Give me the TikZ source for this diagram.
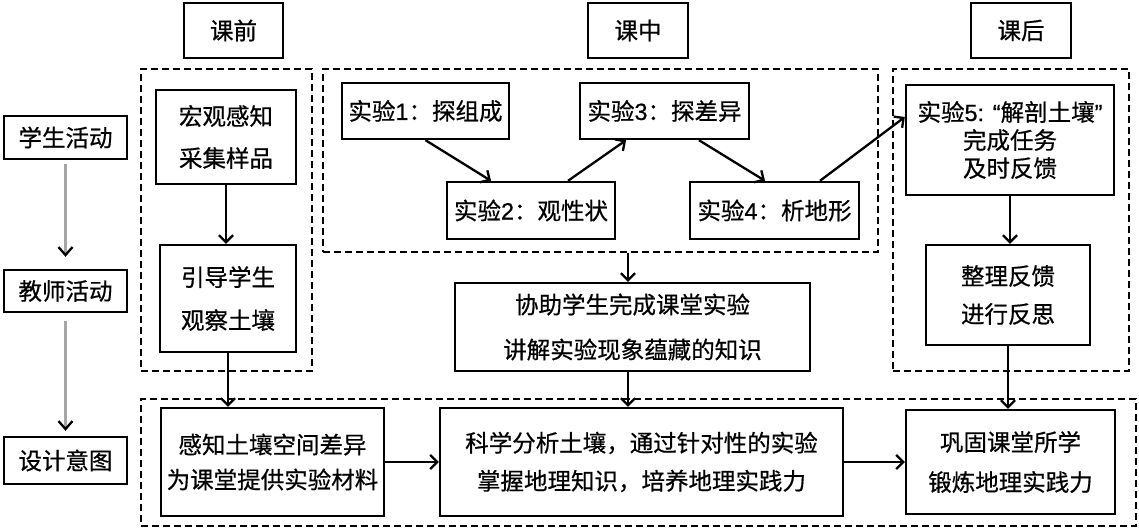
\documentclass[tikz,border=0pt]{standalone}
\usepackage{fontspec}
\newfontfamily\cjk[FakeBold=0.6]{Noto Sans CJK SC}
\newfontfamily\lat[FakeBold=0.6]{Liberation Sans}
\usetikzlibrary{arrows.meta,calc}
\begin{document}
\begin{tikzpicture}[x=1pt,y=-1pt,
  box/.style={draw, line width=2.4pt, inner sep=0pt, align=center, font=\cjk\fontsize{23.5}{30}\selectfont},
  lh/.style={font=\cjk\fontsize{23.5}{#1}\selectfont},
  dbox/.style={draw, line width=2.2pt, dash pattern=on 7pt off 4pt, inner sep=0pt},
  arr/.style={line width=2.3pt, -{Straight Barb[length=7pt,width=14pt,line width=2.3pt]}},
  garr/.style={draw=gray!70, line width=3pt, -{Straight Barb[black,length=8pt,width=14pt,line width=2.3pt]}}
]
\useasboundingbox (0,0) rectangle (1139,530);
% dashed groups
\node[dbox, minimum width=171pt, minimum height=302pt] (d1) at (226.5,220) {};
\node[dbox, minimum width=555pt, minimum height=183pt] (d2) at (600.5,160.5) {};
\node[dbox, minimum width=236pt, minimum height=302pt] (d3) at (1011,220) {};
\node[dbox, minimum width=995pt, minimum height=127pt] (d4) at (638.5,462.5) {};
% headers
\node[box, minimum width=99pt, minimum height=55pt] (kq) at (233.5,30.5) {课前};
\node[box, minimum width=100pt, minimum height=55pt] (kz) at (638,30.5) {课中};
\node[box, minimum width=100pt, minimum height=55pt] (kh) at (1021,30.5) {课后};
% row labels
\node[box, minimum width=123pt, minimum height=43pt] (xs) at (65.5,137.5) {学生活动};
\node[box, minimum width=123pt, minimum height=42pt] (js) at (65.5,291) {教师活动};
\node[box, minimum width=123pt, minimum height=47pt] (sj) at (65.5,460.5) {设计意图};
% pre-class
\node[box, lh=42pt, minimum width=140pt, minimum height=94pt] (hg) at (226,137) {宏观感知\\采集样品};
\node[box, lh=43pt, minimum width=136pt, minimum height=107pt] (yd) at (228,298.5) {引导学生\\观察土壤};
% in-class
\node[box, minimum width=167pt, minimum height=56pt] (s1) at (425.5,111) {实验{\lat 1}：探组成};
\node[box, minimum width=168pt, minimum height=57pt] (s2) at (531,210.5) {实验{\lat 2}：观性状};
\node[box, minimum width=169pt, minimum height=56pt] (s3) at (664.5,111) {实验{\lat 3}：探差异};
\node[box, minimum width=169pt, minimum height=57pt] (s4) at (774.5,210.5) {实验{\lat 4}：析地形};
\node[box, lh=45pt, minimum width=355pt, minimum height=88pt] (xz) at (632.5,327) {协助学生完成课堂实验\\讲解实验现象蕴藏的知识};
% after class
\node[box, lh=28pt, minimum width=208pt, minimum height=110pt] (s5) at (1010,140) {实验{\lat 5: “}解剖土壤{\lat ”}\\完成任务\\及时反馈};
\node[box, lh=38pt, minimum width=164pt, minimum height=100pt] (zl) at (1008,295) {整理反馈\\进行反思};
% design intent
\node[box, lh=35pt, minimum width=223pt, minimum height=108pt] (gz) at (272.5,462) {感知土壤空间差异\\为课堂提供实验材料};
\node[box, lh=38pt, minimum width=403pt, minimum height=108pt] (kx) at (641.5,462) {科学分析土壤，通过针对性的实验\\掌握地理知识，培养地理实践力};
\node[box, lh=40pt, minimum width=209pt, minimum height=104pt] (gg) at (1010.5,462) {巩固课堂所学\\锻炼地理实践力};
% gray row arrows
\draw[garr, shorten <=4pt, shorten >=12pt] (xs.south) -- (js.north);
\draw[garr, shorten <=8pt, shorten >=5pt] (js.south) -- (sj.north);
% arrows
\draw[arr] (hg.south) -- (hg.south |- yd.north);
\draw[arr] (yd.south) -- (yd.south |- gz.north);
\draw[arr] (s1.south) -- ([xshift=-40pt]s2.north);
\draw[arr] ([xshift=37pt]s2.north) -- ([xshift=-38.5pt]s3.south);
\draw[arr] ([xshift=34.5pt]s3.south) -- ([xshift=-9.5pt]s4.north);
\draw[arr] ([xshift=45.5pt]s4.north) -- ([yshift=23pt]s5.west);
\draw[arr] ([xshift=-4.5pt]xz.north |- d2.south) -- ([xshift=-4.5pt]xz.north);
\draw[arr] ([xshift=-4.5pt]xz.south) -- ([xshift=-4.5pt]xz.south |- kx.north);
\draw[arr] (s5.south) -- (s5.south |- zl.north);
\draw[arr] (zl.south) -- (zl.south |- gg.north);
\draw[arr] (gz.east) -- (gz.east -| kx.west);
\draw[arr] (kx.east) -- (kx.east -| gg.west);
\end{tikzpicture}
\end{document}
